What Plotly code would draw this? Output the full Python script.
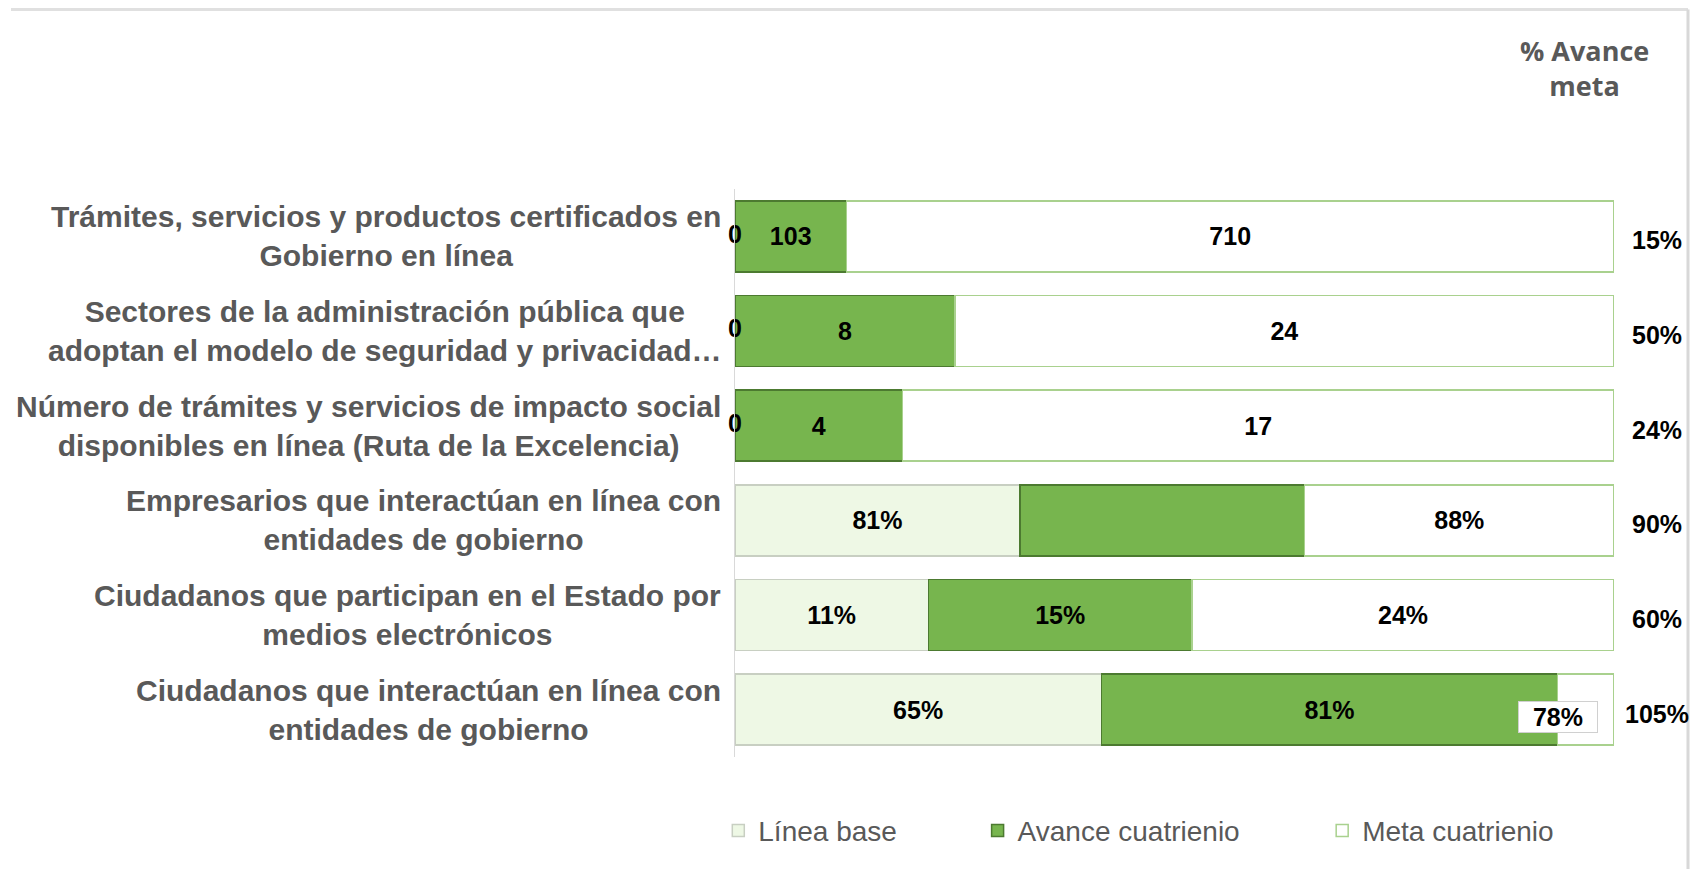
import plotly.graph_objects as go

categories = [
    "Trámites, servicios y productos certificados en<br>Gobierno en línea",
    "Sectores de la administración pública que<br>adoptan el modelo de seguridad y privacidad…",
    "Número de trámites y servicios de impacto social<br>disponibles en línea (Ruta de la Excelencia)",
    "Empresarios que interactúan en línea con<br>entidades de gobierno",
    "Ciudadanos que participan en el Estado por<br>medios electrónicos",
    "Ciudadanos que interactúan en línea con<br>entidades de gobierno",
]
base_values = [0, 0, 0, 81, 11, 65]
avance_values = [103, 8, 4, 81, 15, 81]
meta_values = [710, 24, 17, 88, 24, 10]
base_labels = ["0", "0", "0", "81%", "11%", "65%"]
avance_labels = ["103", "8", "4", "", "15%", "81%"]
meta_labels = ["710", "24", "17", "88%", "24%", "78%"]
meta_label_boxed = [False, False, False, False, False, True]
avance_meta_pct = ["15%", "50%", "24%", "90%", "60%", "105%"]

# page body has an 8px margin; figure sized so the page does not overflow
W, H = 1682, 861
ML, MR, MT, MB = 727, 76, 181, 112
PW, PH = W - ML - MR, H - MT - MB

LAB_FONT = "Liberation Sans, Arial, sans-serif"
NUM_FONT = dict(family=LAB_FONT, size=25, color="#000000", weight="bold")

fig = go.Figure()
fig.add_trace(go.Bar(
    y=categories, x=base_values, orientation="h", name="Línea base",
    marker=dict(color="#EEF8E5", line=dict(color="#C8CFC2", width=1.5)),
    text=[l if v > 0 else "" for l, v in zip(base_labels, base_values)],
    textposition="inside", insidetextanchor="middle", textfont=NUM_FONT,
    legend="legend", hoverinfo="skip",
))
fig.add_trace(go.Bar(
    y=categories, x=avance_values, orientation="h", name="Avance cuatrienio",
    marker=dict(color="#77B54E", line=dict(color="#4C7A30", width=1.5)),
    text=avance_labels, textposition="inside", insidetextanchor="middle",
    textfont=NUM_FONT, legend="legend2", hoverinfo="skip",
))
fig.add_trace(go.Bar(
    y=categories, x=meta_values, orientation="h", name="Meta cuatrienio",
    marker=dict(color="#FFFFFF", line=dict(color="#A9D18E", width=1.5)),
    text=["" if b else l for l, b in zip(meta_labels, meta_label_boxed)],
    textposition="inside", insidetextanchor="middle",
    textfont=NUM_FONT, legend="legend3", hoverinfo="skip",
))
# zero baseline labels
zero_idx = [i for i, v in enumerate(base_values) if v == 0]
fig.add_trace(go.Scatter(
    x=[0 for _ in zero_idx], y=[categories[i] for i in zero_idx],
    text=[base_labels[i] for i in zero_idx], mode="text",
    textposition="middle center", textfont=NUM_FONT,
    showlegend=False, hoverinfo="skip", cliponaxis=False,
))

annotations = []
for i, cat in enumerate(categories):
    annotations.append(dict(
        xref="paper", yref="y", x=0, y=cat, xanchor="right", yanchor="middle",
        xshift=-12, text=cat, showarrow=False, align="center",
        font=dict(family=LAB_FONT, size=30, color="#595959", weight="bold"),
    ))
    annotations.append(dict(
        xref="paper", yref="y", x=1.049, y=cat, xanchor="center", yanchor="middle",
        yshift=-4, text=avance_meta_pct[i], showarrow=False, font=NUM_FONT,
    ))
    if meta_label_boxed[i]:
        tot = base_values[i] + avance_values[i] + meta_values[i]
        annotations.append(dict(
            xref="x", yref="y", x=100 * (base_values[i] + avance_values[i]) / tot,
            y=cat, xanchor="center", yanchor="middle", yshift=-7,
            text=meta_labels[i], showarrow=False, font=NUM_FONT,
            width=74, height=26, align="center",
            bgcolor="#FFFFFF", bordercolor="#D0D0D0", borderwidth=1, borderpad=2,
        ))
annotations.append(dict(
    xref="paper", yref="paper", x=0.966, y=1.213, xanchor="center", yanchor="middle",
    text="% Avance<br>meta", showarrow=False, align="center",
    font=dict(family="Open Sans, Liberation Sans, sans-serif", size=27,
              color="#595959", weight="bold"),
))

leg_font = dict(family="Liberation Sans, Arial, sans-serif", size=28, color="#595959")
def leg(x):
    return dict(x=x, y=-0.13, xanchor="left", yanchor="middle", orientation="h",
                font=leg_font, bgcolor="rgba(0,0,0,0)", itemwidth=30)

# light frame (top and right edges of the picture)
top_y = 1 + (MT - 1.5) / PH
right_x = 1 + (W - 2 - ML - PW) / PW
left_x = -(ML - 3) / PW
bottom_y = -MB / PH

fig.update_layout(
    width=W, height=H,
    margin=dict(l=ML, r=MR, t=MT, b=MB),
    barmode="stack", barnorm="percent", bargap=0.25,
    plot_bgcolor="#FFFFFF", paper_bgcolor="#FFFFFF",
    xaxis=dict(range=[0, 100], visible=False, fixedrange=True),
    yaxis=dict(range=[5.5, -0.5], showticklabels=False, showline=True,
               linecolor="#D9D9D9", linewidth=1, ticks="", showgrid=False,
               zeroline=False),
    legend=leg(-0.019), legend2=leg(0.276), legend3=leg(0.668),
    annotations=annotations,
    shapes=[
        dict(type="line", xref="paper", yref="paper", x0=left_x, x1=right_x,
             y0=top_y, y1=top_y, line=dict(color="#E0E0E0", width=3)),
        dict(type="line", xref="paper", yref="paper", x0=right_x, x1=right_x,
             y0=top_y, y1=bottom_y, line=dict(color="#D8D8D8", width=3)),
    ],
    showlegend=True,
)

fig.write_html("out.html")
